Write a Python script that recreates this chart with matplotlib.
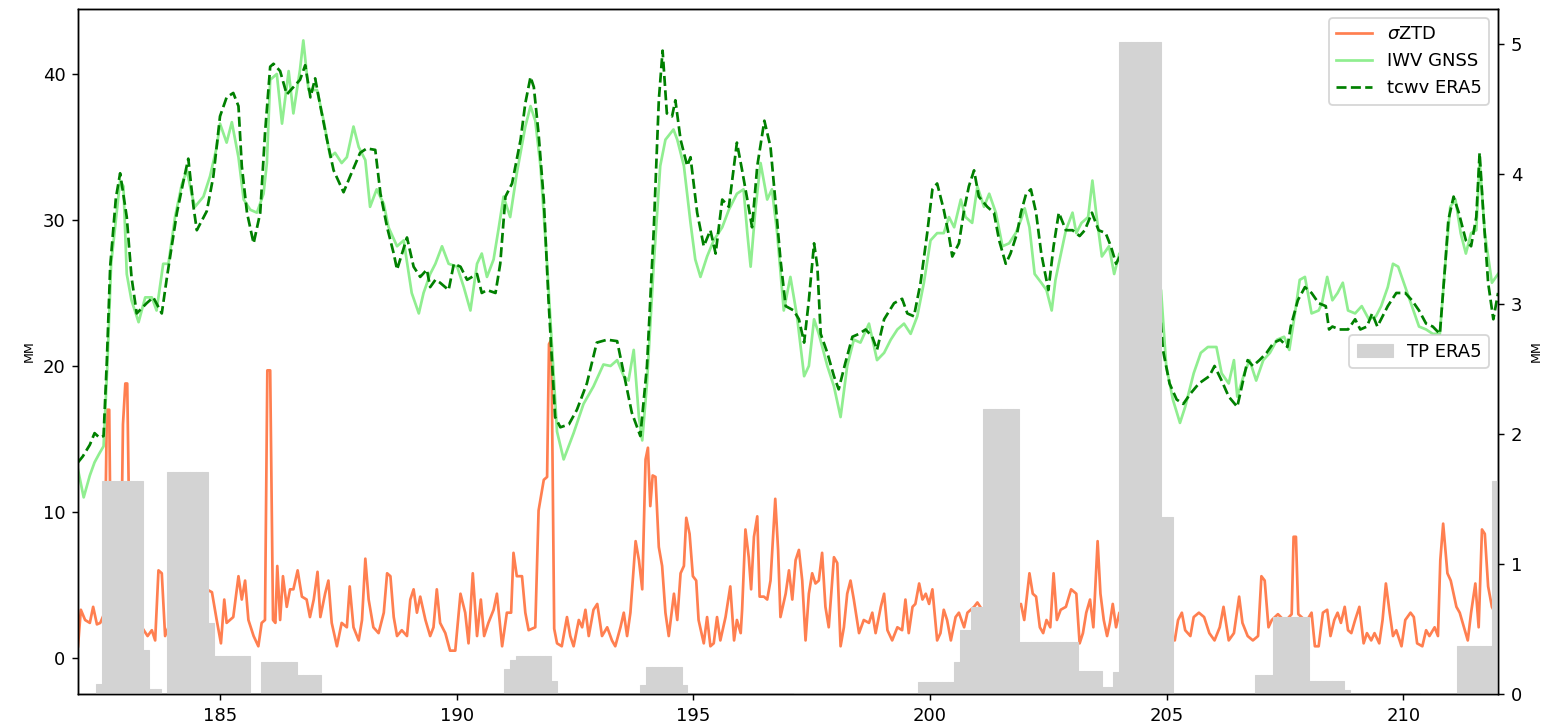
from matplotlib import pyplot as plt
import numpy as np

# sigma ZTD (mm), sampled at irregular day-of-year times
ztd_day = [182.0, 182.06, 182.15, 182.25, 182.32, 182.4, 182.47, 182.55, 182.61, 182.66, 182.7, 182.8,
           182.9, 182.95, 183.0, 183.04, 183.1, 183.2, 183.35, 183.47, 183.56, 183.63, 183.7, 183.77,
           183.84, 183.91, 184.1, 184.3, 184.5, 184.72, 184.83, 184.93, 185.02, 185.09, 185.14, 185.28,
           185.39, 185.46, 185.53, 185.6, 185.71, 185.81, 185.88, 185.95, 186.0, 186.06, 186.12, 186.17,
           186.21, 186.27, 186.33, 186.41, 186.48, 186.55, 186.64, 186.73, 186.83, 186.9, 186.98, 187.06,
           187.12, 187.22, 187.29, 187.36, 187.47, 187.57, 187.68, 187.74, 187.82, 187.93, 188.0, 188.07,
           188.14, 188.24, 188.35, 188.46, 188.53, 188.6, 188.67, 188.74, 188.84, 188.95, 189.02, 189.09,
           189.16, 189.23, 189.34, 189.44, 189.51, 189.58, 189.65, 189.76, 189.86, 189.97, 190.08, 190.18,
           190.25, 190.34, 190.43, 190.51, 190.58, 190.67, 190.78, 190.85, 190.96, 191.06, 191.15, 191.2,
           191.27, 191.38, 191.45, 191.52, 191.66, 191.73, 191.84, 191.91, 191.95, 192.0, 192.06, 192.12,
           192.22, 192.33, 192.4, 192.47, 192.58, 192.65, 192.72, 192.79, 192.89, 192.97, 193.07, 193.18,
           193.28, 193.35, 193.46, 193.53, 193.6, 193.67, 193.78, 193.85, 193.92, 193.99, 194.04, 194.09,
           194.14, 194.2, 194.27, 194.34, 194.41, 194.48, 194.53, 194.59, 194.66, 194.73, 194.8, 194.85,
           194.92, 194.99, 195.06, 195.11, 195.22, 195.29, 195.36, 195.43, 195.5, 195.57, 195.68, 195.78,
           195.86, 195.92, 196.0, 196.03, 196.1, 196.17, 196.22, 196.28, 196.35, 196.4, 196.49, 196.56,
           196.63, 196.73, 196.79, 196.84, 196.95, 197.02, 197.09, 197.16, 197.23, 197.3, 197.37, 197.44,
           197.51, 197.58, 197.65, 197.72, 197.79, 197.86, 197.97, 198.04, 198.11, 198.18, 198.25, 198.32,
           198.39, 198.5, 198.6, 198.71, 198.78, 198.85, 198.96, 199.03, 199.1, 199.2, 199.31, 199.41,
           199.48, 199.55, 199.63, 199.69, 199.77, 199.84, 199.91, 199.98, 200.05, 200.15, 200.22, 200.29,
           200.36, 200.44, 200.54, 200.61, 200.72, 200.79, 200.93, 201.0, 201.1, 201.3, 201.5, 201.75,
           201.92, 201.99, 202.1, 202.17, 202.24, 202.32, 202.39, 202.46, 202.54, 202.61, 202.68, 202.76,
           202.87, 202.98, 203.09, 203.16, 203.23, 203.3, 203.38, 203.45, 203.54, 203.6, 203.67, 203.74,
           203.8, 203.86, 203.93, 204.0, 204.04, 204.3, 204.6, 204.9, 205.17, 205.24, 205.32, 205.39,
           205.5, 205.57, 205.68, 205.79, 205.9, 206.01, 206.12, 206.2, 206.31, 206.42, 206.53, 206.6,
           206.71, 206.82, 206.93, 207.0, 207.07, 207.15, 207.22, 207.35, 207.5, 207.64, 207.68, 207.73,
           207.78, 207.95, 208.06, 208.13, 208.21, 208.3, 208.39, 208.46, 208.54, 208.61, 208.68, 208.76,
           208.83, 208.9, 208.98, 209.07, 209.16, 209.23, 209.32, 209.39, 209.49, 209.56, 209.63, 209.71,
           209.78, 209.85, 209.96, 210.04, 210.15, 210.22, 210.29, 210.4, 210.48, 210.55, 210.66, 210.73,
           210.78, 210.84, 210.93, 211.0, 211.06, 211.12, 211.19, 211.28, 211.36, 211.43, 211.52, 211.59,
           211.66, 211.72, 211.79, 211.87, 211.95, 212.0]
ztd_mm = [0.8, 3.3, 2.6, 2.4, 3.5, 2.3, 2.4, 3.0, 17.0, 17.0, 4.0, 3.5,
          4.0, 16.0, 18.8, 18.8, 5.0, 2.5, 2.1, 1.5, 1.9, 1.2, 6.0, 5.8,
          1.5, 2.1, 3.0, 2.5, 3.5, 4.7, 4.5, 2.6, 1.0, 4.0, 2.4, 2.8,
          5.6, 4.0, 5.3, 2.6, 1.5, 0.8, 2.4, 2.6, 19.7, 19.7, 2.6, 2.4,
          6.3, 2.6, 5.6, 3.5, 4.7, 4.7, 6.0, 4.2, 4.0, 2.8, 4.0, 5.9,
          2.8, 4.4, 5.3, 2.4, 0.8, 2.4, 2.1, 4.9, 2.1, 1.2, 2.6, 6.8,
          4.0, 2.1, 1.7, 3.1, 5.8, 5.6, 2.8, 1.5, 1.9, 1.5, 4.0, 4.7,
          3.1, 4.2, 2.6, 1.5, 2.1, 4.7, 2.4, 1.7, 0.5, 0.5, 4.4, 3.1,
          1.0, 5.8, 1.5, 4.0, 1.5, 2.4, 3.3, 4.4, 0.8, 3.1, 3.1, 7.2,
          5.6, 5.6, 3.1, 1.9, 2.1, 10.1, 12.2, 12.4, 21.5, 21.8, 2.0, 1.0,
          0.8, 2.8, 1.5, 0.8, 2.6, 2.1, 3.3, 1.5, 3.3, 3.7, 1.5, 2.1,
          1.2, 0.8, 2.1, 3.1, 1.5, 3.1, 8.0, 6.7, 4.7, 13.6, 14.4, 10.4,
          12.5, 12.4, 7.6, 6.3, 3.1, 1.5, 2.8, 4.4, 2.6, 5.8, 6.3, 9.6,
          8.5, 5.6, 5.3, 2.6, 1.0, 2.8, 0.8, 1.0, 2.8, 1.2, 2.8, 4.9,
          1.2, 2.6, 1.7, 3.3, 8.8, 6.9, 4.7, 8.3, 9.7, 4.2, 4.2, 4.0,
          5.3, 10.9, 7.4, 2.8, 4.4, 6.0, 4.0, 6.7, 7.4, 5.3, 1.2, 4.4,
          5.8, 5.1, 5.3, 7.2, 3.5, 2.1, 6.9, 6.5, 0.8, 2.1, 4.4, 5.3,
          4.0, 1.7, 2.6, 2.4, 3.1, 1.7, 3.5, 4.4, 1.9, 1.2, 2.1, 1.9,
          4.0, 1.7, 3.5, 3.7, 5.1, 4.0, 4.4, 3.7, 4.7, 1.2, 1.7, 3.3,
          2.6, 1.2, 2.8, 3.1, 2.1, 3.1, 3.5, 3.8, 3.3, 3.0, 2.5, 3.0,
          3.7, 2.6, 5.8, 4.4, 4.2, 2.1, 1.7, 2.6, 2.1, 5.8, 2.6, 3.3,
          3.5, 4.7, 4.4, 1.0, 1.7, 3.1, 4.0, 2.1, 8.0, 4.4, 2.6, 1.5,
          2.4, 3.7, 2.1, 3.1, 2.4, 2.5, 3.0, 2.0, 1.2, 2.6, 3.1, 1.9,
          1.5, 2.8, 3.1, 2.8, 1.7, 1.2, 2.1, 3.5, 1.2, 1.7, 4.2, 2.4,
          1.5, 1.2, 1.5, 5.6, 5.3, 2.1, 2.6, 3.0, 2.5, 3.0, 8.3, 8.3,
          3.0, 2.5, 3.1, 0.8, 0.8, 3.1, 3.3, 1.5, 2.6, 3.1, 2.4, 3.5,
          1.9, 1.7, 2.6, 3.5, 1.0, 1.7, 1.2, 1.7, 1.0, 2.6, 5.1, 3.1,
          1.5, 1.9, 0.8, 2.6, 3.1, 2.8, 1.0, 0.8, 1.9, 1.5, 2.1, 1.5,
          6.7, 9.2, 5.8, 5.3, 4.4, 3.5, 3.1, 2.1, 1.2, 3.1, 5.1, 2.1,
          8.8, 8.5, 4.9, 3.5, 3.0, 2.5]

# integrated water vapour from GNSS (mm)
iwv_day = [182.0, 182.12, 182.25, 182.35, 182.45, 182.54, 182.62, 182.7, 182.89, 182.96, 183.03, 183.13,
           183.28, 183.42, 183.56, 183.66, 183.8, 183.91, 184.05, 184.19, 184.3, 184.4, 184.47, 184.65,
           184.79, 184.93, 185.0, 185.14, 185.25, 185.39, 185.5, 185.64, 185.78, 185.92, 185.99, 186.06,
           186.2, 186.31, 186.45, 186.55, 186.69, 186.76, 186.87, 187.05, 187.19, 187.33, 187.43, 187.57,
           187.68, 187.82, 187.93, 188.07, 188.17, 188.31, 188.46, 188.56, 188.74, 188.88, 189.05, 189.2,
           189.3, 189.44, 189.55, 189.69, 189.83, 190.01, 190.15, 190.29, 190.43, 190.53, 190.64, 190.78,
           190.89, 190.99, 191.13, 191.27, 191.45, 191.56, 191.66, 191.77, 191.91, 192.02, 192.12, 192.26,
           192.47, 192.68, 192.89, 193.1, 193.25, 193.39, 193.53, 193.63, 193.74, 193.85, 193.92, 194.02,
           194.16, 194.3, 194.41, 194.58, 194.66, 194.8, 194.94, 195.04, 195.15, 195.29, 195.43, 195.61,
           195.75, 195.92, 196.06, 196.14, 196.21, 196.31, 196.42, 196.56, 196.66, 196.77, 196.91, 197.05,
           197.19, 197.34, 197.44, 197.55, 197.65, 197.83, 197.97, 198.11, 198.25, 198.39, 198.53, 198.71,
           198.88, 199.03, 199.17, 199.31, 199.45, 199.59, 199.73, 199.87, 200.01, 200.15, 200.29, 200.4,
           200.51, 200.65, 200.75, 200.89, 201.0, 201.14, 201.25, 201.39, 201.53, 201.67, 201.81, 201.92,
           202.0, 202.1, 202.21, 202.35, 202.46, 202.57, 202.65, 202.72, 202.87, 203.01, 203.09, 203.2,
           203.34, 203.43, 203.52, 203.63, 203.78, 203.89, 204.0, 204.4, 204.88, 204.99, 205.13, 205.28,
           205.39, 205.57, 205.72, 205.87, 206.05, 206.16, 206.31, 206.42, 206.49, 206.64, 206.75, 206.89,
           207.04, 207.18, 207.33, 207.48, 207.59, 207.7, 207.81, 207.92, 208.06, 208.21, 208.28, 208.39,
           208.5, 208.61, 208.72, 208.83, 208.98, 209.12, 209.27, 209.42, 209.53, 209.67, 209.78, 209.89,
           210.04, 210.18, 210.33, 210.48, 210.62, 210.77, 210.88, 210.99, 211.1, 211.21, 211.32, 211.43,
           211.54, 211.61, 211.72, 211.87, 212.0]
iwv_mm = [12.9, 11.0, 12.5, 13.4, 14.0, 14.5, 20.0, 27.0, 32.7, 32.3, 26.3, 24.5,
          23.0, 24.7, 24.7, 23.8, 27.0, 27.0, 30.2, 32.4, 33.4, 31.8, 30.9, 31.6,
          33.0, 35.0, 36.6, 35.3, 36.7, 34.3, 31.4, 30.7, 30.5, 31.8, 33.9, 39.6,
          40.0, 36.6, 40.2, 37.3, 40.3, 42.3, 38.9, 38.9, 36.8, 34.3, 34.6, 33.9,
          34.3, 36.4, 35.0, 34.1, 30.9, 32.1, 31.1, 29.5, 28.2, 28.6, 25.0, 23.6,
          25.0, 26.3, 27.0, 28.2, 27.0, 26.8, 25.4, 23.8, 27.0, 27.7, 26.1, 27.3,
          29.5, 31.6, 30.2, 33.2, 36.4, 37.8, 36.8, 33.7, 27.0, 21.0, 15.5, 13.6,
          15.4, 17.4, 18.6, 20.1, 20.0, 20.4, 19.3, 19.0, 21.1, 16.5, 14.9, 18.8,
          26.8, 33.7, 35.5, 36.2, 35.5, 33.7, 29.8, 27.3, 26.1, 27.5, 28.6, 29.5,
          30.7, 31.8, 32.1, 29.1, 26.8, 30.7, 33.9, 31.4, 32.1, 29.1, 23.8, 26.1,
          23.4, 19.3, 20.0, 23.2, 22.2, 20.0, 18.6, 16.5, 20.0, 21.8, 21.6, 22.9,
          20.4, 20.9, 21.8, 22.5, 22.9, 22.2, 23.4, 25.7, 28.6, 29.1, 29.1, 30.2,
          29.5, 31.4, 30.2, 29.8, 32.3, 30.9, 31.8, 30.5, 28.2, 28.4, 29.1, 30.0,
          30.8, 29.5, 26.3, 25.7, 25.2, 23.8, 25.9, 27.0, 29.3, 30.5, 29.1, 29.8,
          30.2, 32.7, 30.2, 27.5, 28.2, 26.3, 27.7, 27.0, 25.2, 20.0, 17.7, 16.1,
          17.2, 19.5, 20.9, 21.3, 21.3, 19.5, 18.8, 20.4, 17.9, 19.5, 20.4, 19.0,
          20.4, 20.9, 21.8, 22.0, 21.1, 23.4, 25.9, 26.1, 23.6, 23.8, 24.3, 26.1,
          24.5, 25.0, 25.7, 23.8, 23.6, 24.1, 23.2, 23.4, 24.1, 25.4, 27.0, 26.8,
          25.4, 24.1, 22.7, 22.5, 22.2, 22.2, 26.8, 30.9, 31.4, 29.1, 27.7, 29.1,
          29.3, 34.1, 29.1, 25.7, 26.3]

# total column water vapour from ERA5 (mm)
tcwv_day = [182.0, 182.1, 182.25, 182.35, 182.45, 182.54, 182.61, 182.68, 182.8, 182.89, 183.03, 183.13,
            183.24, 183.45, 183.59, 183.77, 183.88, 184.09, 184.23, 184.33, 184.44, 184.51, 184.72, 184.86,
            185.0, 185.14, 185.28, 185.39, 185.46, 185.57, 185.71, 185.85, 185.95, 186.06, 186.13, 186.27,
            186.41, 186.55, 186.69, 186.8, 186.91, 187.01, 187.12, 187.26, 187.4, 187.61, 187.75, 187.96,
            188.1, 188.28, 188.39, 188.53, 188.67, 188.74, 188.95, 189.09, 189.23, 189.37, 189.44, 189.55,
            189.65, 189.83, 189.94, 190.08, 190.22, 190.43, 190.53, 190.64, 190.82, 190.92, 191.03, 191.17,
            191.35, 191.45, 191.56, 191.63, 191.73, 191.84, 191.94, 192.02, 192.08, 192.19, 192.37, 192.54,
            192.75, 192.96, 193.18, 193.39, 193.53, 193.7, 193.88, 194.02, 194.16, 194.27, 194.35, 194.44,
            194.55, 194.62, 194.73, 194.87, 194.94, 195.08, 195.22, 195.36, 195.47, 195.61, 195.75, 195.92,
            196.03, 196.14, 196.24, 196.35, 196.5, 196.63, 196.73, 196.84, 196.95, 197.12, 197.23, 197.34,
            197.44, 197.55, 197.62, 197.69, 197.83, 197.97, 198.07, 198.21, 198.36, 198.5, 198.64, 198.78,
            198.88, 199.03, 199.24, 199.41, 199.52, 199.66, 199.8, 199.94, 200.05, 200.15, 200.29, 200.4,
            200.47, 200.61, 200.72, 200.82, 200.93, 201.03, 201.21, 201.35, 201.46, 201.6, 201.7, 201.84,
            201.92, 202.03, 202.13, 202.24, 202.35, 202.5, 202.61, 202.72, 202.87, 203.01, 203.16, 203.27,
            203.42, 203.56, 203.71, 203.82, 203.93, 204.04, 204.3, 204.6, 204.84, 204.92, 205.06, 205.21,
            205.35, 205.5, 205.68, 205.9, 206.01, 206.16, 206.31, 206.49, 206.6, 206.71, 206.82, 206.96,
            207.11, 207.26, 207.4, 207.55, 207.62, 207.77, 207.92, 208.06, 208.21, 208.36, 208.43, 208.5,
            208.65, 208.83, 208.98, 209.09, 209.23, 209.34, 209.45, 209.67, 209.85, 210.04, 210.18, 210.33,
            210.48, 210.62, 210.77, 210.88, 210.95, 211.06, 211.17, 211.32, 211.43, 211.54, 211.61, 211.68,
            211.79, 211.9, 212.0]
tcwv_mm = [13.4, 13.8, 14.6, 15.4, 15.1, 15.2, 20.4, 26.8, 31.5, 33.2, 30.2, 26.1,
           23.6, 24.3, 24.7, 23.6, 26.1, 30.5, 32.7, 34.2, 30.9, 29.3, 30.6, 33.0,
           37.1, 38.4, 38.7, 37.8, 33.7, 30.5, 28.4, 30.5, 35.9, 40.5, 40.7, 40.2,
           38.6, 39.1, 39.6, 40.6, 38.4, 39.7, 37.8, 35.5, 33.4, 31.9, 33.0, 34.6,
           34.9, 34.8, 31.8, 29.5, 27.7, 26.6, 28.8, 26.8, 26.1, 26.6, 25.4, 25.9,
           25.7, 25.2, 27.0, 26.8, 25.9, 26.3, 25.0, 25.2, 25.0, 27.0, 31.6, 32.5,
           35.5, 38.0, 39.8, 39.1, 35.9, 31.4, 24.5, 20.0, 16.5, 15.8, 16.0, 17.0,
           18.8, 21.6, 21.8, 21.7, 19.5, 16.8, 15.2, 20.0, 29.1, 38.2, 41.6, 37.3,
           37.1, 38.2, 35.5, 33.7, 34.3, 30.5, 28.2, 29.3, 27.7, 31.4, 30.9, 35.3,
           33.4, 31.4, 29.5, 33.7, 36.8, 35.0, 31.4, 27.3, 24.1, 23.8, 23.2, 21.6,
           24.5, 28.4, 26.8, 22.2, 20.9, 19.3, 18.4, 20.2, 22.0, 22.2, 22.5, 22.0,
           21.1, 23.2, 24.3, 24.6, 23.6, 23.4, 25.7, 29.1, 32.1, 32.5, 30.7, 28.9,
           27.5, 28.4, 30.7, 32.3, 33.4, 31.6, 30.9, 30.5, 28.6, 27.0, 27.7, 29.1,
           30.5, 31.8, 32.1, 30.5, 27.7, 25.2, 28.2, 30.5, 29.3, 29.3, 28.9, 29.3,
           30.5, 29.3, 29.1, 28.2, 27.0, 27.7, 27.5, 26.5, 24.5, 21.1, 18.8, 17.7,
           17.4, 18.1, 18.8, 19.3, 20.0, 19.0, 17.9, 17.2, 18.8, 20.4, 20.0, 20.4,
           20.9, 21.6, 21.8, 21.3, 22.7, 24.5, 25.4, 25.0, 24.3, 24.1, 22.5, 22.7,
           22.5, 22.5, 23.2, 22.5, 22.7, 23.6, 22.7, 24.1, 25.0, 25.0, 24.5, 23.8,
           22.9, 22.7, 22.2, 26.8, 30.0, 31.6, 30.5, 28.6, 28.2, 30.2, 34.6, 30.9,
           25.7, 23.2, 25.0]

# ERA5 total precipitation (mm), 3-hourly from day 182, one row per day
tp_mm = [
    0, 0, 0, 0.08, 1.64, 1.64, 1.64, 1.64,            # 182
    1.64, 1.64, 1.64, 0.34, 0.04, 0.04, 0, 1.71,      # 183
    1.71, 1.71, 1.71, 1.71, 1.71, 1.71, 0.55, 0.29,   # 184
    0.29, 0.29, 0.29, 0.29, 0.29, 0, 0, 0.25,         # 185
    0.25, 0.25, 0.25, 0.25, 0.25, 0.15, 0.15, 0.15,   # 186
    0.15, 0, 0, 0, 0, 0, 0, 0,                        # 187
    0, 0, 0, 0, 0, 0, 0, 0,                           # 188
    0, 0, 0, 0, 0, 0, 0, 0,                           # 189
    0, 0, 0, 0, 0, 0, 0, 0,                           # 190
    0.19, 0.26, 0.29, 0.29, 0.29, 0.29, 0.29, 0.29,   # 191
    0.1, 0, 0, 0, 0, 0, 0, 0,                         # 192
    0, 0, 0, 0, 0, 0, 0, 0.07,                        # 193
    0.21, 0.21, 0.21, 0.21, 0.21, 0.21, 0.07, 0,      # 194
    0, 0, 0, 0, 0, 0, 0, 0,                           # 195
    0, 0, 0, 0, 0, 0, 0, 0,                           # 196
    0, 0.01, 0.01, 0.01, 0.01, 0.01, 0.01, 0,         # 197
    0, 0, 0, 0, 0, 0, 0, 0,                           # 198
    0, 0, 0, 0, 0, 0, 0.095, 0.095,                   # 199
    0.095, 0.095, 0.095, 0.095, 0.25, 0.49, 0.49, 0.67,  # 200
    0.67, 2.19, 2.19, 2.19, 2.19, 2.19, 2.19, 0.40,   # 201
    0.40, 0.40, 0.40, 0.40, 0.40, 0.40, 0.40, 0.40,   # 202
    0.40, 0.18, 0.18, 0.18, 0.18, 0.056, 0.056, 0.17,  # 203
    5.02, 5.02, 5.02, 5.02, 5.02, 5.02, 5.02, 1.36,   # 204
    1.36, 0, 0, 0, 0, 0, 0, 0,                        # 205
    0, 0, 0, 0, 0, 0, 0, 0.15,                        # 206
    0.15, 0.15, 0.59, 0.59, 0.59, 0.59, 0.59, 0.59,   # 207
    0.10, 0.10, 0.10, 0.10, 0.10, 0.10, 0.03, 0,      # 208
    0, 0, 0, 0, 0, 0, 0, 0,                           # 209
    0, 0, 0, 0.005, 0.005, 0.005, 0, 0,               # 210
    0, 0.37, 0.37, 0.37, 0.37, 0.37, 0.37, 1.64,      # 211
]
tp_day = 182 + np.arange(len(tp_mm)) / 8

fig = plt.figure(figsize=(12, 5.6), dpi=130)
ax = fig.add_subplot(111)
fig.subplots_adjust(left=0.05, right=0.9603, top=0.9876, bottom=0.0467)

ax.plot(ztd_day, ztd_mm, color='coral', label=r'$\sigma$ZTD')
ax.plot(iwv_day, iwv_mm, color='lightgreen', label='IWV GNSS')
ax.plot(tcwv_day, tcwv_mm, color='green', linestyle='--', label='tcwv ERA5')
ax.set_ylabel('MM', fontsize=7)
ax.set_xlim(182, 212)
ax.set_ylim(-2.47, 44.45)
ax.legend(loc='upper right')

# precipitation on a second axis, drawn over the lines
ax2 = ax.twinx()
ax2.bar(tp_day, tp_mm, width=0.125, align='edge', color='lightgray',
        edgecolor='lightgray', linewidth=0.6, label='TP ERA5')
ax2.set_ylim(0, 5.27)
ax2.set_ylabel('MM', fontsize=7)
ax2.legend(loc='center right')

fig.savefig('out.png')
